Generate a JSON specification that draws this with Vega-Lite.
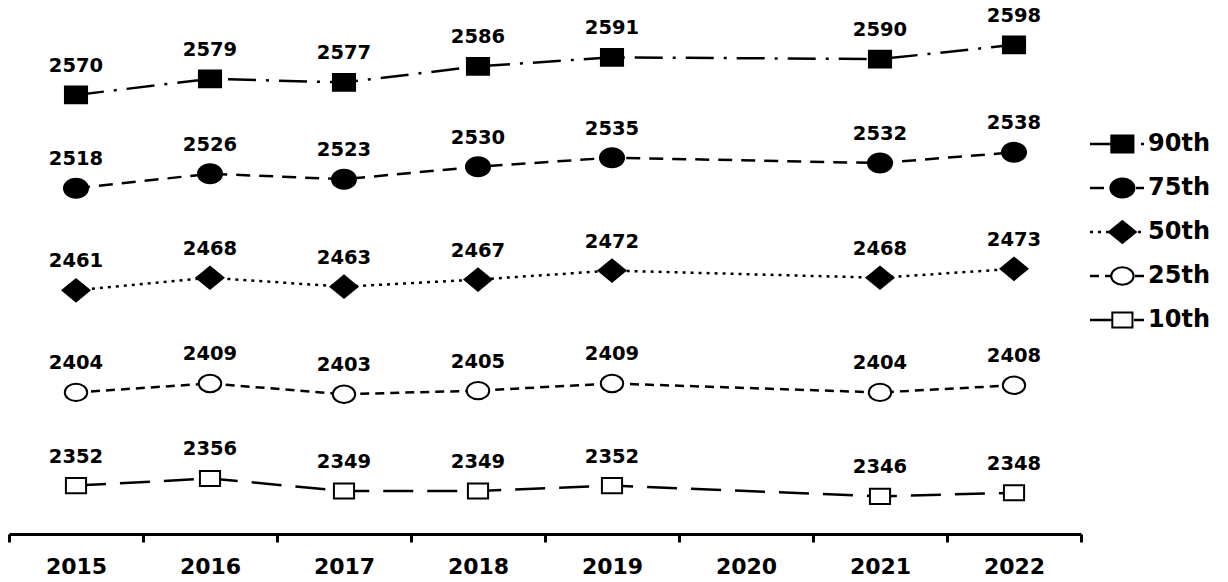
{
  "$schema": "https://vega.github.io/schema/vega-lite/v6.json",
  "padding": {"left": 7, "top": 0, "right": 0, "bottom": 0},
  "background": "white",
  "spacing": 5,
  "config": {"view": {"stroke": null}, "font": "DejaVu Sans"},
  "datasets": {
    "series": [
      {"year": "2015", "pct": "90th", "value": 2570},
      {"year": "2016", "pct": "90th", "value": 2579},
      {"year": "2017", "pct": "90th", "value": 2577},
      {"year": "2018", "pct": "90th", "value": 2586},
      {"year": "2019", "pct": "90th", "value": 2591},
      {"year": "2021", "pct": "90th", "value": 2590},
      {"year": "2022", "pct": "90th", "value": 2598},
      {"year": "2015", "pct": "75th", "value": 2518},
      {"year": "2016", "pct": "75th", "value": 2526},
      {"year": "2017", "pct": "75th", "value": 2523},
      {"year": "2018", "pct": "75th", "value": 2530},
      {"year": "2019", "pct": "75th", "value": 2535},
      {"year": "2021", "pct": "75th", "value": 2532},
      {"year": "2022", "pct": "75th", "value": 2538},
      {"year": "2015", "pct": "50th", "value": 2461},
      {"year": "2016", "pct": "50th", "value": 2468},
      {"year": "2017", "pct": "50th", "value": 2463},
      {"year": "2018", "pct": "50th", "value": 2467},
      {"year": "2019", "pct": "50th", "value": 2472},
      {"year": "2021", "pct": "50th", "value": 2468},
      {"year": "2022", "pct": "50th", "value": 2473},
      {"year": "2015", "pct": "25th", "value": 2404},
      {"year": "2016", "pct": "25th", "value": 2409},
      {"year": "2017", "pct": "25th", "value": 2403},
      {"year": "2018", "pct": "25th", "value": 2405},
      {"year": "2019", "pct": "25th", "value": 2409},
      {"year": "2021", "pct": "25th", "value": 2404},
      {"year": "2022", "pct": "25th", "value": 2408},
      {"year": "2015", "pct": "10th", "value": 2352},
      {"year": "2016", "pct": "10th", "value": 2356},
      {"year": "2017", "pct": "10th", "value": 2349},
      {"year": "2018", "pct": "10th", "value": 2349},
      {"year": "2019", "pct": "10th", "value": 2352},
      {"year": "2021", "pct": "10th", "value": 2346},
      {"year": "2022", "pct": "10th", "value": 2348}
    ],
    "legend": [
      {"pct": "90th"},
      {"pct": "75th"},
      {"pct": "50th"},
      {"pct": "25th"},
      {"pct": "10th"}
    ]
  },
  "hconcat": [
    {
      "width": 1072,
      "height": 534,
      "data": {"name": "series"},
      "encoding": {
        "x": {
          "field": "year",
          "type": "ordinal",
          "scale": {"type": "band", "paddingInner": 0, "paddingOuter": 0, "domain": ["2015", "2016", "2017", "2018", "2019", "2020", "2021", "2022"]},
          "axis": {
            "title": null,
            "tickBand": "extent",
            "labelAngle": 0,
            "labelFontSize": 22,
            "labelFontWeight": "bold",
            "labelColor": "black",
            "labelPadding": 14,
            "domainColor": "black",
            "domainWidth": 3,
            "tickColor": "black",
            "tickWidth": 3,
            "tickSize": 8,
            "grid": false
          }
        },
        "y": {
          "field": "value",
          "type": "quantitative",
          "scale": {"domain": [2325.0, 2623.0], "nice": false, "zero": false},
          "axis": null
        }
      },
      "layer": [
        {
          "mark": {"type": "line", "color": "black", "strokeWidth": 2.5},
          "encoding": {
            "detail": {"field": "pct"},
            "strokeDash": {
              "field": "pct",
              "type": "nominal",
              "scale": {
                "domain": ["90th", "75th", "50th", "25th", "10th"],
                "range": [[28, 10, 3, 10], [14, 9], [3, 5], [9, 6], [30, 14]]
              },
              "legend": null
            }
          }
        },
        {
          "mark": {"type": "point", "filled": true, "opacity": 1, "stroke": "black", "strokeWidth": 2, "size": 784},
          "encoding": {
            "shape": {
              "field": "pct",
              "type": "nominal",
              "scale": {
                "domain": ["90th", "75th", "50th", "25th", "10th"],
                "range": [
                  "M-0.79,-0.6H0.79V0.6H-0.79Z",
                  "M-0.86,0A0.86,0.68 0 1,1 0.86,0A0.86,0.68 0 1,1 -0.86,0Z",
                  "M-0.96,0L0,-0.79L0.96,0L0,0.79Z",
                  "M-0.8,0A0.8,0.62 0 1,1 0.8,0A0.8,0.62 0 1,1 -0.8,0Z",
                  "M-0.72,-0.54H0.72V0.54H-0.72Z"
                ]
              },
              "legend": null
            },
            "fill": {
              "field": "pct",
              "type": "nominal",
              "scale": {
                "domain": ["90th", "75th", "50th", "25th", "10th"],
                "range": ["black", "black", "black", "white", "white"]
              },
              "legend": null
            }
          }
        },
        {
          "mark": {"type": "text", "dy": -29, "fontSize": 19.5, "fontWeight": "bold", "color": "black", "baseline": "middle"},
          "encoding": {
            "text": {"field": "value", "type": "quantitative", "format": "d"}
          }
        }
      ]
    },
    {
      "width": 135,
      "height": 534,
      "data": {"name": "legend"},
      "encoding": {
        "y": {
          "field": "pct",
          "type": "ordinal",
          "scale": {"type": "point", "padding": 0, "domain": ["90th", "75th", "50th", "25th", "10th"], "range": [144, 320]},
          "axis": null
        }
      },
      "layer": [
        {
          "mark": {"type": "rule", "color": "black", "strokeWidth": 2.5},
          "encoding": {
            "x": {"datum": 0.0, "type": "quantitative", "scale": {"domain": [0, 1], "nice": false, "zero": false}, "axis": null},
            "x2": {"datum": 0.4},
            "strokeDash": {
              "field": "pct",
              "type": "nominal",
              "scale": {
                "domain": ["90th", "75th", "50th", "25th", "10th"],
                "range": [[28, 10, 3, 10], [14, 9], [3, 5], [9, 6], [30, 14]]
              },
              "legend": null
            }
          }
        },
        {
          "mark": {"type": "point", "filled": true, "opacity": 1, "stroke": "black", "strokeWidth": 2, "size": 784},
          "encoding": {
            "x": {"datum": 0.24, "type": "quantitative", "scale": {"domain": [0, 1], "nice": false, "zero": false}, "axis": null},
            "shape": {
              "field": "pct",
              "type": "nominal",
              "scale": {
                "domain": ["90th", "75th", "50th", "25th", "10th"],
                "range": [
                  "M-0.79,-0.6H0.79V0.6H-0.79Z",
                  "M-0.86,0A0.86,0.68 0 1,1 0.86,0A0.86,0.68 0 1,1 -0.86,0Z",
                  "M-0.96,0L0,-0.79L0.96,0L0,0.79Z",
                  "M-0.8,0A0.8,0.62 0 1,1 0.8,0A0.8,0.62 0 1,1 -0.8,0Z",
                  "M-0.72,-0.54H0.72V0.54H-0.72Z"
                ]
              },
              "legend": null
            },
            "fill": {
              "field": "pct",
              "type": "nominal",
              "scale": {
                "domain": ["90th", "75th", "50th", "25th", "10th"],
                "range": ["black", "black", "black", "white", "white"]
              },
              "legend": null
            }
          }
        },
        {
          "mark": {"type": "text", "fontSize": 24, "fontWeight": "bold", "color": "black", "align": "left", "baseline": "middle"},
          "encoding": {
            "x": {"datum": 0.43, "type": "quantitative", "scale": {"domain": [0, 1], "nice": false, "zero": false}, "axis": null},
            "text": {"field": "pct", "type": "nominal"}
          }
        }
      ]
    }
  ]
}
